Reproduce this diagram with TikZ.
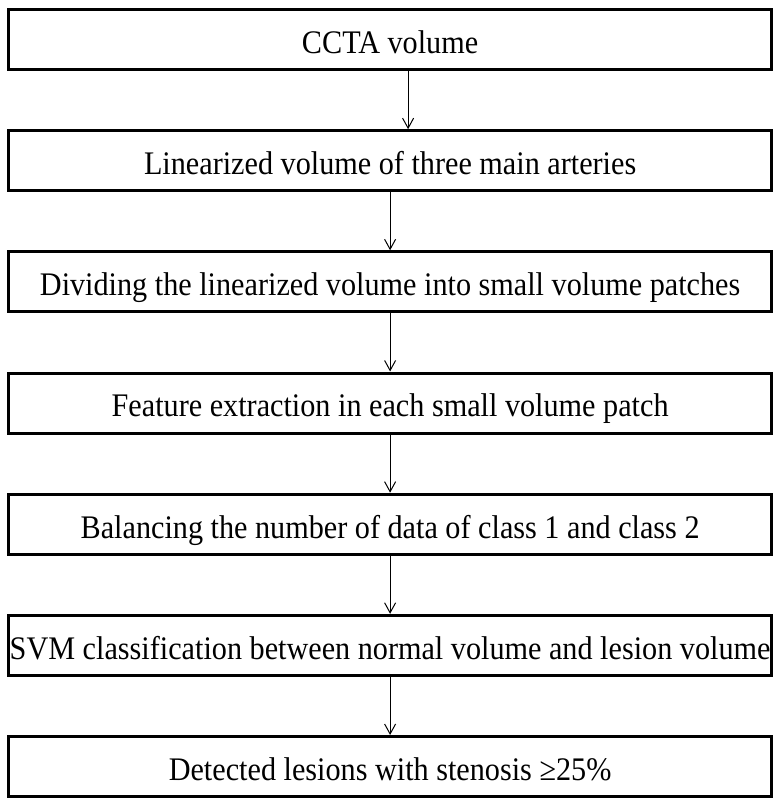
\documentclass[tikz,border=0pt]{standalone}
\usepackage{fontspec}
\usepackage{graphicx}
\setmainfont{Liberation Serif}
\usetikzlibrary{arrows.meta}
\newcommand{\tallt}[1]{\scalebox{1}[1.09]{#1}}
\begin{document}
\begin{tikzpicture}[x=1pt,y=-1pt,
  stepbox/.style={draw, line width=3pt, minimum width=763pt, minimum height=60pt,
    inner sep=0pt, text height=27.8pt, text depth=0pt,
    font=\fontsize{30.2}{36}\selectfont, anchor=center},
  flow/.style={-{Straight Barb[length=10pt,width=11pt]}, line width=1pt}]
\useasboundingbox (0,0) rectangle (780,806);
\node[stepbox] (b1) at (390.1,39.5) {\tallt{CCTA volume}};
\node[stepbox] (b2) at (390.1,160.7) {\tallt{Linearized volume of three main arteries}};
\node[stepbox] (b3) at (390.1,281.8) {\tallt{Dividing the linearized volume into small volume patches}};
\node[stepbox] (b4) at (390.1,403) {\tallt{Feature extraction in each small volume patch}};
\node[stepbox] (b5) at (390.1,524.2) {\tallt{Balancing the number of data of class 1 and class 2}};
\node[stepbox] (b6) at (390.1,645.3) {\tallt{SVM classification between normal volume and lesion volume}};
\node[stepbox] (b7) at (390.1,766.5) {\tallt{Detected lesions with stenosis ≥25\%}};
\draw[flow] ([xshift=18pt]b1.south) -- ([xshift=18pt]b2.north);
\draw[flow] (b2) -- (b3);
\draw[flow] (b3) -- (b4);
\draw[flow] (b4) -- (b5);
\draw[flow] (b5) -- (b6);
\draw[flow] (b6) -- (b7);
\end{tikzpicture}
\end{document}
